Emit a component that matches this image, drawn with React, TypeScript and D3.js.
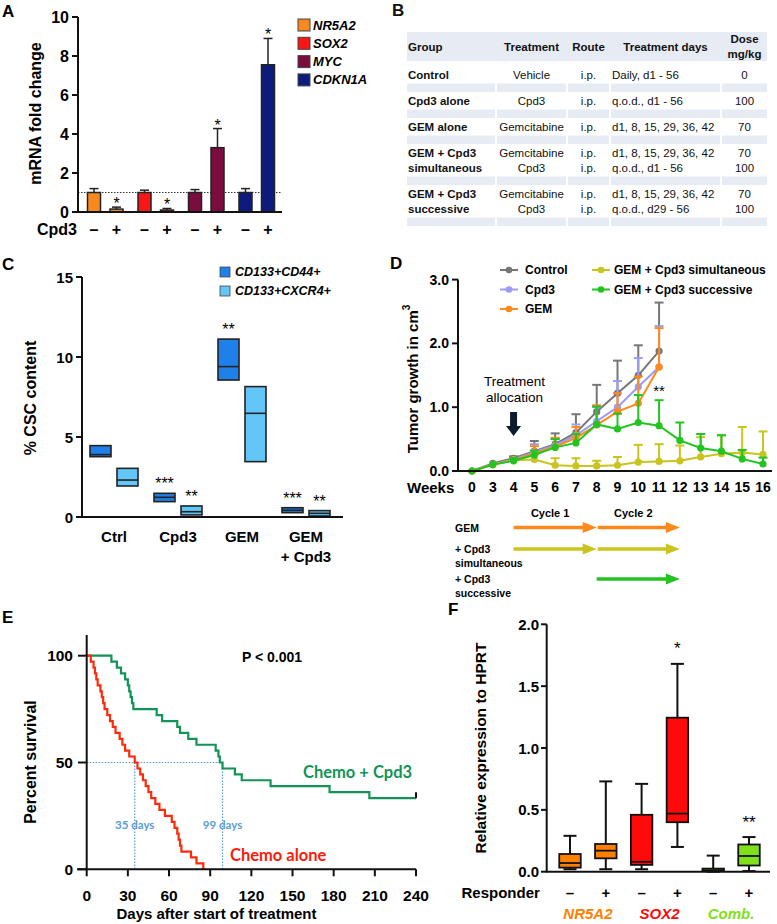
import React from "react";
import * as d3 from "d3";

const ARIAL = "'Liberation Sans', Arial, Helvetica, sans-serif";
const CALI = "Lato, 'Open Sans', 'Liberation Sans', sans-serif";

// ---------------- Panel A data ----------------
const aGenes = ["NR5A2", "SOX2", "MYC", "CDKN1A"];
const aTreat = ["–", "+"];
const aControl = [1.0, 1.0, 1.0, 1.0];
const aControlErr = [0.2, 0.12, 0.15, 0.2];
const aCpd3 = [0.15, 0.1, 3.3, 7.55];
const aCpd3Err = [0.1, 0.08, 0.98, 1.35];
const aSig = ["*", "*", "*", "*"];
const aYTicks = [0, 2, 4, 6, 8, 10];
const aColors = ["#f7891f", "#fa1616", "#7a0c3e", "#0d1b7c"];

// ---------------- Panel B data ----------------
const bHeader = [["Group"], ["Treatment"], ["Route"], ["Treatment days"], ["Dose", "mg/kg"]];
const bGroup = [["Control"], ["Cpd3 alone"], ["GEM alone"], ["GEM + Cpd3", "simultaneous"], ["GEM + Cpd3", "successive"]];
const bTreatment = [["Vehicle"], ["Cpd3"], ["Gemcitabine"], ["Gemcitabine", "Cpd3"], ["Gemcitabine", "Cpd3"]];
const bRoute = [["i.p."], ["i.p."], ["i.p."], ["i.p.", "i.p."], ["i.p.", "i.p."]];
const bDays = [
  ["Daily, d1 - 56"],
  ["q.o.d., d1 - 56"],
  ["d1, 8, 15, 29, 36, 42"],
  ["d1, 8, 15, 29, 36, 42", "q.o.d., d1 - 56"],
  ["d1, 8, 15, 29, 36, 42", "q.o.d., d29 - 56"],
];
const bDose = [["0"], ["100"], ["70"], ["70", "100"], ["70", "100"]];

// ---------------- Panel C data ----------------
const cGroups = ["Ctrl", "Cpd3", "GEM", "GEM|+ Cpd3"];
const cSeries = ["CD133+CD44+", "CD133+CXCR4+"];
const cColors = ["#1f80ea", "#62c6f8"];
const cMin44 = [3.77, 0.96, 8.56, 0.27];
const cMed44 = [3.9, 1.23, 9.4, 0.42];
const cMax44 = [4.46, 1.48, 11.12, 0.58];
const cMinX4 = [1.94, 0.13, 3.46, 0.06];
const cMedX4 = [2.31, 0.33, 6.48, 0.23];
const cMaxX4 = [3.04, 0.69, 8.15, 0.4];
const cSig44 = ["", "***", "**", "***"];
const cSigX4 = ["", "**", "", "**"];
const cYTicks = [0, 5, 10, 15];

// ---------------- Panel D data ----------------
const dWeeks = ["0", "3", "4", "5", "6", "7", "8", "9", "10", "11", "12", "13", "14", "15", "16"];
const dNames = ["Control", "Cpd3", "GEM", "GEM + Cpd3 simultaneous", "GEM + Cpd3 successive"];
const dColors = ["#767676", "#9c9cf4", "#ff8a1c", "#c9c41e", "#22c422"];
const dControl = [0, 0.12, 0.2, 0.31, 0.42, 0.6, 0.93, 1.22, 1.5, 1.88];
const dControlErr = [0, 0.02, 0.03, 0.16, 0.17, 0.29, 0.42, 0.51, 0.47, 0.76];
const dCpd3 = [0, 0.1, 0.18, 0.3, 0.4, 0.56, 0.78, 1.0, 1.32, 1.63];
const dCpd3Err = [0, 0.02, 0.02, 0.12, 0.1, 0.17, 0.22, 0.41, 0.45, 0.64];
const dGEM = [0, 0.1, 0.17, 0.28, 0.38, 0.52, 0.72, 0.93, 1.06, 1.63];
const dGEMErr = [0, 0.02, 0.03, 0.11, 0.14, 0.17, 0.31, 0.29, 0.42, 0.61];
const dSim = [0, 0.1, 0.17, 0.18, 0.09, 0.08, 0.08, 0.09, 0.14, 0.15, 0.16, 0.22, 0.27, 0.29, 0.26];
const dSimErr = [0, 0.02, 0.03, 0.08, 0.11, 0.12, 0.08, 0.13, 0.27, 0.27, 0.24, 0.31, 0.29, 0.4, 0.36];
const dSuc = [0, 0.1, 0.16, 0.25, 0.37, 0.44, 0.73, 0.66, 0.76, 0.71, 0.48, 0.36, 0.31, 0.19, 0.11];
const dSucErr = [0, 0.02, 0.04, 0.07, 0.13, 0.14, 0.28, 0.24, 0.43, 0.4, 0.28, 0.22, 0.25, 0.14, 0.1];
const dYTicks = [0, 1, 2, 3];
const dAllocWeek = "4";
const dSigWeek = "11";
const dSig = "**";
const tlLabels = [["GEM"], ["+ Cpd3", "simultaneous"], ["+ Cpd3", "successive"]];
const tlSegments = [
  [["4", "8"], ["8", "12"]],
  [["4", "8"], ["8", "12"]],
  [["8", "12"]],
];
const tlColors = ["#ff8a1c", "#c9c41e", "#22c422"];
const tlCycles = [["Cycle 1", "4", "8"], ["Cycle 2", "8", "12"]];

// ---------------- Panel E data ----------------
const eRedDays = [3, 5, 6, 7, 8, 10, 11, 12, 13, 15, 17, 19, 21, 24, 26, 28, 31, 35, 37, 39, 41, 43, 45, 47, 50, 53, 57, 62, 64, 66, 67, 68, 69, 76, 80, 85];
const eRedSurv = [97.2, 94.4, 91.7, 88.9, 86.1, 83.3, 80.6, 77.8, 75, 72.2, 69.4, 66.7, 63.9, 61.1, 58.3, 55.6, 52.8, 50, 47.2, 44.4, 41.7, 38.9, 36.1, 33.3, 30.6, 27.8, 25, 22.2, 19.4, 16.7, 13.9, 11.1, 8.3, 5.6, 2.8, 0];
const eGreenDays = [18, 22, 25, 28, 30, 31, 32, 33, 34, 51, 55, 66, 68, 74, 80, 94, 96, 97, 99, 108, 113, 134, 177, 206];
const eGreenSurv = [97.2, 94.4, 91.7, 88.9, 86.1, 83.3, 80.6, 77.8, 75, 72.2, 69.4, 66.7, 63.9, 61.1, 58.3, 55.6, 52.8, 50, 47.2, 44.4, 41.7, 38.9, 36.1, 33.3];
const eGreenEnd = 240;
const eXTicks = [0, 30, 60, 90, 120, 150, 180, 210, 240];
const eYTicks = [0, 50, 100];
const eMedians = [35, 99];

// ---------------- Panel F data ----------------
const fGenes = ["NR5A2", "SOX2", "Comb."];
const fResp = ["–", "+"];
const fColors = ["#ff8000", "#ff0a0a", "#80e01a"];
const fMin = [0.02, 0.02, 0.02, 0.2, 0.0, 0.005];
const fQ1 = [0.033, 0.108, 0.055, 0.4, 0.005, 0.05];
const fMed = [0.07, 0.17, 0.08, 0.47, 0.012, 0.127];
const fQ3 = [0.143, 0.224, 0.46, 1.245, 0.025, 0.22];
const fMax = [0.29, 0.73, 0.71, 1.68, 0.13, 0.28];
const fSig = ["", "", "", "*", "", "**"];
const fYTicks = [0, 0.5, 1.0, 1.5, 2.0];

const B = { fontFamily: ARIAL, fontWeight: "bold" as const };

function PanelA() {
  const y = d3.scaleLinear().domain([0, 10]).range([212, 17]);
  const x0 = d3.scaleBand<string>().domain(aGenes).range([80, 282]);
  const x1 = d3.scalePoint<string>().domain(aTreat).range([14, 36.5]);
  const bw = 13;
  return (
    <g>
      <text x={2} y={17} {...B} fontSize={17}>A</text>
      <line x1={78} x2={282} y1={y(1)} y2={y(1)} stroke="#333" strokeDasharray="1.5 1.5" strokeWidth={1} />
      {aGenes.map((g, i) => {
        const vals = [aControl[i], aCpd3[i]];
        const errs = [aControlErr[i], aCpd3Err[i]];
        return aTreat.map((t, j) => {
          const cx = (x0(g) as number) + (x1(t) as number);
          const top = y(vals[j] + errs[j]);
          return (
            <g key={g + j}>
              <line x1={cx} x2={cx} y1={y(vals[j])} y2={top} stroke="#222" strokeWidth={1.5} />
              <line x1={cx - 4.5} x2={cx + 4.5} y1={top} y2={top} stroke="#222" strokeWidth={1.5} />
              <rect x={cx - bw / 2} y={y(vals[j])} width={bw} height={y(0) - y(vals[j])} fill={aColors[i]} stroke="#222" strokeWidth={1.5} />
              {j === 1 && (
                <text x={cx} y={top + 2} textAnchor="middle" fontFamily={ARIAL} fontSize={16}>{aSig[i]}</text>
              )}
              <text x={cx} y={229} textAnchor="middle" dominantBaseline="central" {...B} fontSize={16}>{t}</text>
            </g>
          );
        });
      })}
      <line x1={78} x2={78} y1={y(10)} y2={y(0)} stroke="#111" strokeWidth={2} />
      <line x1={77} x2={282} y1={y(0)} y2={y(0)} stroke="#111" strokeWidth={2} />
      {aYTicks.map((t) => (
        <g key={t}>
          <line x1={72} x2={78} y1={y(t)} y2={y(t)} stroke="#111" strokeWidth={2} />
          <text x={69} y={y(t)} textAnchor="end" dominantBaseline="central" {...B} fontSize={16}>{t}</text>
        </g>
      ))}
      <text transform="translate(35,113.5) rotate(-90)" textAnchor="middle" dominantBaseline="central" {...B} fontSize={16}>mRNA fold change</text>
      <text x={37} y={229} dominantBaseline="central" {...B} fontSize={16}>Cpd3</text>
      {aGenes.map((g, i) => (
        <g key={g}>
          <rect x={298} y={25 + i * 18.3 - 6} width={12} height={12} fill={aColors[i]} stroke="#444" strokeWidth={1} />
          <text x={313} y={25 + i * 18.3} dominantBaseline="central" {...B} fontStyle="italic" fontSize={13}>{g}</text>
        </g>
      ))}
    </g>
  );
}

function PanelB() {
  const cols = [
    { x0: 407, x1: 495, anchor: "start", tx: 408, bold: true, data: bGroup },
    { x0: 497, x1: 566, anchor: "middle", tx: 531.5, bold: false, data: bTreatment },
    { x0: 568, x1: 609, anchor: "middle", tx: 588.5, bold: false, data: bRoute },
    { x0: 611, x1: 720, anchor: "start", tx: 612, bold: false, data: bDays },
    { x0: 722, x1: 767, anchor: "middle", tx: 744.5, bold: false, data: bDose },
  ];
  const headerAnchor = ["start", "middle", "middle", "middle", "middle"];
  const headerX = [408, 531.5, 588.5, 665.5, 744.5];
  const rows: { lines: number; top: number }[] = [];
  let top = 66;
  bGroup.forEach((g) => {
    rows.push({ lines: g.length, top });
    top += 9 + (g.length - 1) * 15 + 8.5 + 8.5;
  });
  const fs = 11.5;
  return (
    <g fontFamily={ARIAL} fontSize={fs} fill="#111">
      <text x={392} y={16} {...B} fontSize={17}>B</text>
      <rect x={407} y={32} width={360} height={29} fill="#e6ebf4" />
      {bHeader.map((h, i) => (
        <text key={i} x={headerX[i]} textAnchor={headerAnchor[i] as any} fontWeight="bold">
          {h.map((l, k) => (
            <tspan key={k} x={headerX[i]} y={h.length === 1 ? 47 : 39 + k * 15} dominantBaseline="central">{l}</tspan>
          ))}
        </text>
      ))}
      {rows.map((r, ri) => {
        const lastC = r.top + 9 + (r.lines - 1) * 15;
        return (
          <g key={ri}>
            {cols.map((c, ci) => (
              <g key={ci}>
                <rect x={c.x0} y={lastC + 8.5} width={c.x1 - c.x0} height={8.5} fill="#e6ebf4" />
                {c.data[ri].map((l, k) => (
                  <text key={k} x={c.tx} y={r.top + 9 + k * 15} textAnchor={c.anchor as any} dominantBaseline="central" fontWeight={c.bold ? "bold" : "normal"}>{l}</text>
                ))}
              </g>
            ))}
          </g>
        );
      })}
    </g>
  );
}

function PanelC() {
  const y = d3.scaleLinear().domain([0, 15]).range([517, 277]);
  const x = d3.scaleBand<string>().domain(cGroups).range([82, 338]);
  const off = d3.scalePoint<string>().domain(cSeries).range([-13.5, 13.5]);
  const bw = 21;
  const sets = [
    [cMin44, cMed44, cMax44, cSig44],
    [cMinX4, cMedX4, cMaxX4, cSigX4],
  ];
  return (
    <g>
      <text x={2} y={270} {...B} fontSize={17}>C</text>
      {cGroups.map((g, gi) =>
        cSeries.map((s, si) => {
          const cx = (x(g) as number) + x.bandwidth() / 2 + (off(s) as number);
          const [mn, md, mx, sg] = sets[si] as any[];
          return (
            <g key={g + s}>
              <rect x={cx - bw / 2} y={y(mx[gi])} width={bw} height={y(mn[gi]) - y(mx[gi])} fill={cColors[si]} stroke="#222" strokeWidth={1.6} />
              <line x1={cx - bw / 2} x2={cx + bw / 2} y1={y(md[gi])} y2={y(md[gi])} stroke="#222" strokeWidth={1.6} />
              {sg[gi] && (
                <text x={cx} y={y(mx[gi]) - 4} textAnchor="middle" fontFamily={ARIAL} fontSize={16}>{sg[gi]}</text>
              )}
            </g>
          );
        })
      )}
      <line x1={82} x2={82} y1={y(15)} y2={y(0)} stroke="#111" strokeWidth={2} />
      <line x1={81} x2={343} y1={y(0)} y2={y(0)} stroke="#111" strokeWidth={2} />
      {cYTicks.map((t) => (
        <g key={t}>
          <line x1={76} x2={82} y1={y(t)} y2={y(t)} stroke="#111" strokeWidth={2} />
          <text x={73} y={y(t)} textAnchor="end" dominantBaseline="central" {...B} fontSize={15}>{t}</text>
        </g>
      ))}
      {cGroups.map((g) => (
        <text key={g} textAnchor="middle" {...B} fontSize={15}>
          {g.split("|").map((l, k) => (
            <tspan key={k} x={(x(g) as number) + x.bandwidth() / 2} y={536 + k * 20} dominantBaseline="central">{l}</tspan>
          ))}
        </text>
      ))}
      <text transform="translate(30,398) rotate(-90)" textAnchor="middle" dominantBaseline="central" {...B} fontSize={16}>% CSC content</text>
      {cSeries.map((s, i) => (
        <g key={s}>
          <rect x={220} y={272 + i * 19 - 5} width={10} height={10} fill={cColors[i]} stroke="#444" strokeWidth={0.8} />
          <text x={235} y={272 + i * 19} dominantBaseline="central" {...B} fontStyle="italic" fontSize={12.5}>{s}</text>
        </g>
      ))}
    </g>
  );
}

function PanelD() {
  const x = d3.scalePoint<string>().domain(dWeeks).range([472, 763]);
  const y = d3.scaleLinear().domain([0, 3]).range([471, 279.6]);
  const means = [dControl, dCpd3, dGEM, dSim, dSuc];
  const errs = [dControlErr, dCpd3Err, dGEMErr, dSimErr, dSucErr];
  const line = d3
    .line<number>()
    .x((_, i) => x(dWeeks[i]) as number)
    .y((d) => y(d));
  const legendPos = [
    [500, 270], [500, 289.5], [500, 309], [592, 270], [592, 289.5],
  ];
  const ax = x(dAllocWeek) as number;
  return (
    <g>
      <text x={390} y={269} {...B} fontSize={17}>D</text>
      {means.map((m, si) => (
        <g key={si}>
          {m.map((v, i) => {
            const cx = x(dWeeks[i]) as number;
            const top = y(v + errs[si][i]);
            return errs[si][i] > 0.025 ? (
              <g key={i}>
                <line x1={cx} x2={cx} y1={y(v)} y2={top} stroke={dColors[si]} strokeWidth={2} />
                <line x1={cx - 4.5} x2={cx + 4.5} y1={top} y2={top} stroke={dColors[si]} strokeWidth={2} />
              </g>
            ) : null;
          })}
          <path d={line(m) as string} fill="none" stroke={dColors[si]} strokeWidth={2} />
          {m.map((v, i) => (
            <circle key={i} cx={x(dWeeks[i]) as number} cy={y(v)} r={3.6} fill={dColors[si]} />
          ))}
        </g>
      ))}
      <text x={x(dSigWeek) as number} y={396} textAnchor="middle" fontFamily={ARIAL} fontSize={15}>{dSig}</text>
      <line x1={458} x2={458} y1={y(3)} y2={y(0)} stroke="#111" strokeWidth={2} />
      <line x1={457} x2={772} y1={y(0)} y2={y(0)} stroke="#111" strokeWidth={2} />
      {dYTicks.map((t) => (
        <g key={t}>
          <line x1={452} x2={458} y1={y(t)} y2={y(t)} stroke="#111" strokeWidth={2} />
          <text x={449} y={y(t)} textAnchor="end" dominantBaseline="central" {...B} fontSize={14}>{t.toFixed(1)}</text>
        </g>
      ))}
      <text x={407} y={487} dominantBaseline="central" {...B} fontSize={15}>Weeks</text>
      {dWeeks.map((w) => (
        <text key={w} x={x(w) as number} y={487} textAnchor="middle" dominantBaseline="central" {...B} fontSize={14}>{w}</text>
      ))}
      <text transform="translate(412,379) rotate(-90)" textAnchor="middle" dominantBaseline="central" {...B} fontSize={15}>
        Tumor growth in cm<tspan fontSize={10} dy={-6}>3</tspan>
      </text>
      <text x={ax + 1} y={381} textAnchor="middle" dominantBaseline="central" fontFamily={ARIAL} fontSize={13.5}>Treatment</text>
      <text x={ax + 1} y={397} textAnchor="middle" dominantBaseline="central" fontFamily={ARIAL} fontSize={13.5}>allocation</text>
      <rect x={ax - 3.5} y={412} width={7} height={15} fill="#0d1b2e" />
      <path d={`M${ax - 7.5},${426} L${ax + 7.5},${426} L${ax},${436} Z`} fill="#0d1b2e" />
      {dNames.map((n, i) => (
        <g key={n}>
          <line x1={legendPos[i][0]} x2={legendPos[i][0] + 18} y1={legendPos[i][1]} y2={legendPos[i][1]} stroke={dColors[i]} strokeWidth={2} />
          <circle cx={legendPos[i][0] + 9} cy={legendPos[i][1]} r={3.3} fill={dColors[i]} />
          <text x={legendPos[i][0] + (i < 3 ? 25 : 22)} y={legendPos[i][1]} dominantBaseline="central" {...B} fontSize={12}>{n}</text>
        </g>
      ))}
      {tlCycles.map((c) => (
        <text key={c[0]} x={((x(c[1]) as number) + (x(c[2]) as number)) / 2 - 5} y={513} textAnchor="middle" dominantBaseline="central" {...B} fontSize={11}>{c[0]}</text>
      ))}
      {tlLabels.map((lab, ri) => {
        const ry = [527.5, 549, 579][ri];
        return (
          <g key={ri}>
            {lab.map((l, k) => (
              <text key={k} x={455} y={ry + k * 14} dominantBaseline="central" {...B} fontSize={10.5}>{l}</text>
            ))}
            {tlSegments[ri].map((seg, si) => {
              const xa = (x(seg[0]) as number) + (si > 0 ? 1 : 0);
              const xb = x(seg[1]) as number;
              return (
                <g key={si}>
                  <line x1={xa} x2={xb - 12} y1={ry} y2={ry} stroke={tlColors[ri]} strokeWidth={3.5} />
                  <path d={`M${xb},${ry} L${xb - 14},${ry - 5.5} L${xb - 14},${ry + 5.5} Z`} fill={tlColors[ri]} />
                </g>
              );
            })}
          </g>
        );
      })}
    </g>
  );
}

function PanelE() {
  const x = d3.scaleLinear().domain([0, 240]).range([86.7, 416]);
  const y = d3.scaleLinear().domain([0, 100]).range([869.3, 655.7]);
  const step = d3
    .line<[number, number]>()
    .x((d) => x(d[0]))
    .y((d) => y(d[1]))
    .curve(d3.curveStepAfter);
  const red: [number, number][] = [[0, 100], ...eRedDays.map((d, i) => [d, eRedSurv[i]] as [number, number])];
  const green: [number, number][] = [
    [0, 100],
    ...eGreenDays.map((d, i) => [d, eGreenSurv[i]] as [number, number]),
    [eGreenEnd, eGreenSurv[eGreenSurv.length - 1]],
  ];
  const blue = "#5b9bd5";
  return (
    <g>
      <text x={2} y={623} {...B} fontSize={17}>E</text>
      <line x1={x(0)} x2={x(eMedians[1])} y1={y(50)} y2={y(50)} stroke={blue} strokeWidth={1.2} strokeDasharray="1.5 1.5" />
      {eMedians.map((m) => (
        <g key={m}>
          <line x1={x(m)} x2={x(m)} y1={y(50)} y2={y(0)} stroke={blue} strokeWidth={1.2} strokeDasharray="1.5 1.5" />
          <text x={x(m)} y={824} textAnchor="middle" dominantBaseline="central" fontFamily={CALI} fontWeight="bold" fontSize={11.5} fill={blue}>{m} days</text>
        </g>
      ))}
      <path d={step(green) as string} fill="none" stroke="#119455" strokeWidth={2.2} />
      <line x1={x(eGreenEnd)} x2={x(eGreenEnd)} y1={y(eGreenSurv[eGreenSurv.length - 1]) - 6} y2={y(eGreenSurv[eGreenSurv.length - 1])} stroke="#111" strokeWidth={2} />
      <path d={step(red) as string} fill="none" stroke="#ff2a0a" strokeWidth={2.2} />
      <line x1={x(0)} x2={x(0)} y1={635} y2={y(0)} stroke="#111" strokeWidth={2} />
      <line x1={77} x2={x(240)} y1={y(0)} y2={y(0)} stroke="#111" strokeWidth={2} />
      {eYTicks.map((t) => (
        <g key={t}>
          <line x1={78} x2={x(0)} y1={y(t)} y2={y(t)} stroke="#111" strokeWidth={2} />
          <text x={73} y={y(t)} textAnchor="end" dominantBaseline="central" {...B} fontSize={15.5}>{t}</text>
        </g>
      ))}
      {eXTicks.map((t) => (
        <g key={t}>
          <line x1={x(t)} x2={x(t)} y1={y(0)} y2={y(0) + 7} stroke="#111" strokeWidth={2} />
          <text x={x(t)} y={895} textAnchor="middle" dominantBaseline="central" {...B} fontSize={15.5}>{t}</text>
        </g>
      ))}
      <text x={216.5} y={913} textAnchor="middle" dominantBaseline="central" {...B} fontSize={15}>Days after start of treatment</text>
      <text transform="translate(30,762) rotate(-90)" textAnchor="middle" dominantBaseline="central" {...B} fontSize={16}>Percent survival</text>
      <text x={272} y={657} textAnchor="middle" dominantBaseline="central" {...B} fontSize={14}>P &lt; 0.001</text>
      <text x={303} y={772} dominantBaseline="central" fontFamily={CALI} fontWeight="bold" fontSize={16.5} fill="#119455">Chemo + Cpd3</text>
      <text x={230} y={855} dominantBaseline="central" fontFamily={CALI} fontWeight="bold" fontSize={16.5} fill="#ff1a0a">Chemo alone</text>
    </g>
  );
}

function PanelF() {
  const keys = fGenes.flatMap((g) => fResp.map((r) => g + r));
  const x = d3.scalePoint<string>().domain(keys).range([570, 749]);
  const y = d3.scaleLinear().domain([0, 2]).range([871.7, 624.3]);
  const bw = 21.5;
  const cap = 6.5;
  return (
    <g>
      <text x={448} y={615} {...B} fontSize={17}>F</text>
      {keys.map((k, i) => {
        const cx = x(k) as number;
        const col = fColors[Math.floor(i / 2)];
        return (
          <g key={k}>
            <line x1={cx} x2={cx} y1={y(fMax[i])} y2={y(fMin[i])} stroke="#111" strokeWidth={2} />
            <line x1={cx - cap} x2={cx + cap} y1={y(fMax[i])} y2={y(fMax[i])} stroke="#111" strokeWidth={2} />
            <line x1={cx - cap} x2={cx + cap} y1={y(fMin[i])} y2={y(fMin[i])} stroke="#111" strokeWidth={2} />
            <rect x={cx - bw / 2} y={y(fQ3[i])} width={bw} height={Math.max(1, y(fQ1[i]) - y(fQ3[i]))} fill={col} stroke="#111" strokeWidth={1.8} />
            <line x1={cx - bw / 2} x2={cx + bw / 2} y1={y(fMed[i])} y2={y(fMed[i])} stroke="#111" strokeWidth={1.8} />
            {fSig[i] && (
              <text x={cx} y={y(fMax[i]) - 9.5} textAnchor="middle" fontFamily={ARIAL} fontSize={17}>{fSig[i]}</text>
            )}
            <text x={cx} y={892.7} textAnchor="middle" dominantBaseline="central" {...B} fontSize={15}>{fResp[i % 2]}</text>
          </g>
        );
      })}
      <line x1={546.7} x2={546.7} y1={y(2)} y2={y(0)} stroke="#111" strokeWidth={2} />
      <line x1={546} x2={770} y1={y(0)} y2={y(0)} stroke="#111" strokeWidth={2} />
      {fYTicks.map((t) => (
        <g key={t}>
          <line x1={541} x2={546.7} y1={y(t)} y2={y(t)} stroke="#111" strokeWidth={2} />
          <text x={539} y={y(t)} textAnchor="end" dominantBaseline="central" {...B} fontSize={15}>{t.toFixed(1)}</text>
        </g>
      ))}
      <text x={461.5} y={892.7} dominantBaseline="central" {...B} fontSize={15}>Responder</text>
      {fGenes.map((g, gi) => (
        <text key={g} x={((x(g + fResp[0]) as number) + (x(g + fResp[1]) as number)) / 2} y={913} textAnchor="middle" dominantBaseline="central" {...B} fontStyle="italic" fontSize={15} fill={fColors[gi]}>{g}</text>
      ))}
      <text transform="translate(480,748) rotate(-90)" textAnchor="middle" dominantBaseline="central" {...B} fontSize={15.5}>Relative expression to HPRT</text>
    </g>
  );
}

export default function App() {
  return (
    <svg width={777} height={924} viewBox="0 0 777 924" style={{ position: "absolute", left: 0, top: 0, background: "#fff" }}>
      <rect width={777} height={924} fill="#fff" />
      <PanelA />
      <PanelB />
      <PanelC />
      <PanelD />
      <PanelE />
      <PanelF />
    </svg>
  );
}
